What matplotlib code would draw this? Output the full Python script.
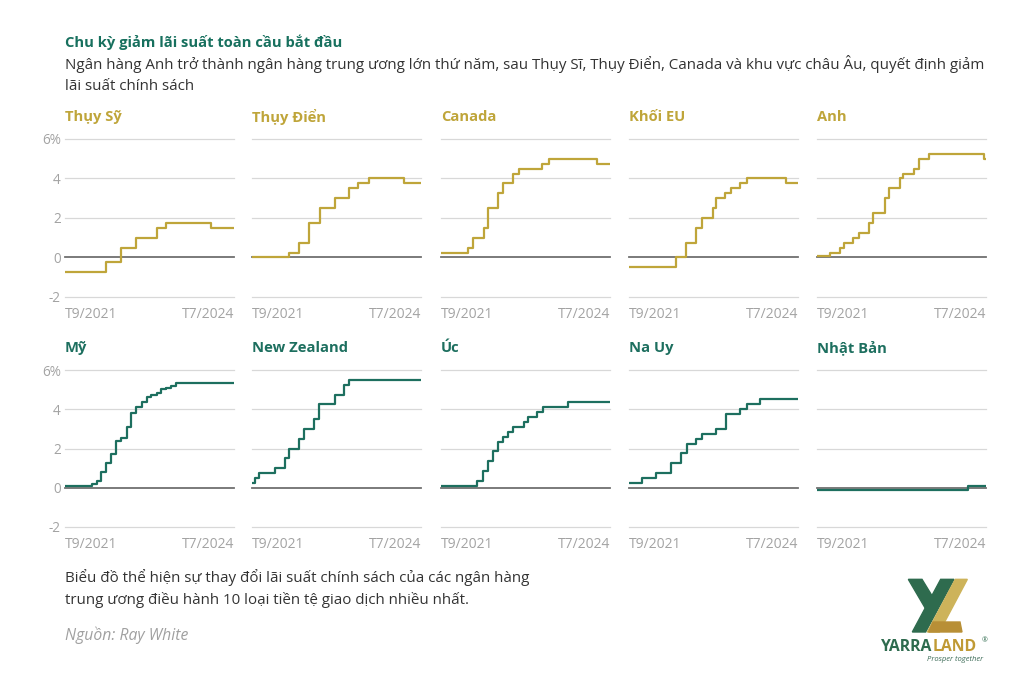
import numpy as np
import pandas as pd
import matplotlib
matplotlib.use("Agg")
import matplotlib.pyplot as plt
from matplotlib.patches import Polygon

plt.rcParams['font.family'] = ['Open Sans', 'DejaVu Sans']

# ---- data (policy rates, %) ----
start, end = "2021-09-01", "2024-08-01"

che_dates = ["2021-09-01", "2022-05-18", "2022-08-21", "2022-11-24", "2023-04-01", "2023-06-01", "2024-03-09"]
che_rates = [-0.75, -0.25, 0.5, 1.0, 1.5, 1.75, 1.5]

swe_dates = ["2021-09-01", "2022-04-22", "2022-06-22", "2022-08-25", "2022-11-01", "2023-02-07",
             "2023-05-07", "2023-06-28", "2023-09-07", "2024-04-13"]
swe_rates = [0.0, 0.25, 0.75, 1.75, 2.5, 3.0, 3.5, 3.75, 4.0, 3.75]

can_dates = ["2021-09-01", "2022-02-16", "2022-03-22", "2022-05-28", "2022-06-22", "2022-08-28",
             "2022-09-28", "2022-11-28", "2023-01-04", "2023-06-01", "2023-07-13", "2024-05-13"]
can_rates = [0.25, 0.5, 1.0, 1.5, 2.5, 3.25, 3.75, 4.25, 4.5, 4.75, 5.0, 4.75]

eu_dates = ["2021-09-01", "2022-06-22", "2022-08-25", "2022-10-28", "2022-12-04", "2023-02-10",
            "2023-03-01", "2023-05-01", "2023-06-04", "2023-08-04", "2023-09-13", "2024-05-19"]
eu_rates = [-0.5, 0.0, 0.75, 1.5, 2.0, 2.5, 3.0, 3.25, 3.5, 3.75, 4.0, 3.75]

uk_dates = ["2021-09-01", "2021-11-19", "2022-01-22", "2022-02-19", "2022-04-19", "2022-05-25",
            "2022-07-28", "2022-08-21", "2022-11-01", "2022-12-01", "2023-02-07", "2023-02-28",
            "2023-05-04", "2023-06-07", "2023-08-10", "2024-07-19"]
uk_rates = [0.1, 0.25, 0.5, 0.75, 1.0, 1.25, 1.75, 2.25, 3.0, 3.5, 4.0, 4.25, 4.5, 5.0, 5.25, 5.0]

us_dates = ["2021-09-01", "2022-02-16", "2022-03-22", "2022-04-16", "2022-05-16", "2022-06-19",
            "2022-07-22", "2022-08-22", "2022-09-25", "2022-10-25", "2022-11-25", "2022-12-28",
            "2023-01-28", "2023-02-25", "2023-04-01", "2023-04-28", "2023-05-28", "2023-07-04",
            "2023-08-04"]
us_rates = [0.08, 0.2, 0.33, 0.8, 1.25, 1.72, 2.38, 2.56, 3.08, 3.8, 4.12, 4.35,
            4.6, 4.72, 4.85, 5.05, 5.1, 5.2, 5.33]

nz_dates = ["2021-09-01", "2021-09-17", "2021-10-14", "2022-01-22", "2022-03-25", "2022-04-25",
            "2022-06-22", "2022-07-28", "2022-09-25", "2022-10-28", "2023-02-04", "2023-04-01",
            "2023-05-04"]
nz_rates = [0.25, 0.5, 0.75, 1.0, 1.5, 2.0, 2.5, 3.0, 3.5, 4.25, 4.75, 5.25, 5.5]

aus_dates = ["2021-09-01", "2022-04-16", "2022-05-25", "2022-06-22", "2022-07-28", "2022-08-28",
             "2022-09-28", "2022-10-28", "2022-11-28", "2023-02-04", "2023-03-01", "2023-04-28",
             "2023-06-04", "2023-11-10"]
aus_rates = [0.1, 0.35, 0.85, 1.35, 1.85, 2.35, 2.6, 2.85, 3.1, 3.35, 3.6, 3.85, 4.1, 4.35]

nor_dates = ["2021-09-01", "2021-11-19", "2022-02-19", "2022-05-22", "2022-07-25", "2022-09-01",
             "2022-10-28", "2022-12-07", "2023-03-04", "2023-05-04", "2023-08-01", "2023-09-13",
             "2023-12-07"]
nor_rates = [0.25, 0.5, 0.75, 1.25, 1.75, 2.25, 2.5, 2.75, 3.0, 3.75, 4.0, 4.25, 4.5]

jpn_dates = ["2021-09-01", "2024-04-10"]
jpn_rates = [-0.1, 0.1]

names_top = ["Thụy Sỹ", "Thụy Điển", "Canada", "Khối EU", "Anh"]
names_bot = ["Mỹ", "New Zealand", "Úc", "Na Uy", "Nhật Bản"]
series_top = [(che_dates, che_rates), (swe_dates, swe_rates), (can_dates, can_rates),
              (eu_dates, eu_rates), (uk_dates, uk_rates)]
series_bot = [(us_dates, us_rates), (nz_dates, nz_rates), (aus_dates, aus_rates),
              (nor_dates, nor_rates), (jpn_dates, jpn_rates)]

yticks = [-2, 0, 2, 4, 6]
ylabels = ["-2", "0", "2", "4", "6%"]

GOLD = "#bfa53a"
TEAL = "#1d6f5f"
TICK = "#a3a3a3"
W, H = 1024, 683


def fx(x):
    return x / W


def fy(y):
    return 1 - y / H


fig = plt.figure(figsize=(10.24, 6.83), dpi=100)
fig.patch.set_facecolor("white")

lefts = [65, 252, 441, 629, 817]
pw = 169
rows = [(139, 297, 117, names_top, series_top, GOLD),
        (370, 527, 348, names_bot, series_bot, TEAL)]

x0, x1 = pd.Timestamp(start), pd.Timestamp(end)

for top, bot, ttl_y, names, series, col in rows:
    for i, (lx, name, (d, r)) in enumerate(zip(lefts, names, series)):
        ax = fig.add_axes([fx(lx), fy(bot), fx(pw), (bot - top) / H])
        for v in yticks:
            if v == 0:
                ax.axhline(v, color="#707070", lw=1.3, zorder=2, clip_on=False)
            else:
                ax.axhline(v, color="#d8d8d8", lw=0.9, zorder=1, clip_on=False)
        dd = list(pd.to_datetime(d)) + [x1]
        rr = list(r) + [r[-1]]
        ax.step(dd, rr, where="post", color=col, lw=1.6, zorder=3)
        ax.set_xlim(x0, x1)
        ax.set_ylim(-2, 6)
        for s in ax.spines.values():
            s.set_visible(False)
        ax.set_yticks(yticks)
        if i == 0:
            ax.set_yticklabels(ylabels, color=TICK, fontsize=9.8)
        else:
            ax.set_yticklabels([])
        ax.set_xticks([x0, x1])
        ax.set_xticklabels(["T9/2021", "T7/2024"], color=TICK, fontsize=10)
        labs = ax.get_xticklabels()
        labs[0].set_horizontalalignment("left")
        labs[1].set_horizontalalignment("right")
        ax.tick_params(length=0, pad=3)
        ax.tick_params(axis="x", pad=7)
        ax.set_facecolor("none")
        fig.text(fx(lx), fy(ttl_y), name, color=col, fontsize=10.6,
                 fontweight="bold", va="center", ha="left")

# header
fig.text(fx(65), fy(42), "Chu kỳ giảm lãi suất toàn cầu bắt đầu", color="#17705e",
         fontsize=10.6, fontweight="bold", va="center")
fig.text(fx(65), fy(64), "Ngân hàng Anh trở thành ngân hàng trung ương lớn thứ năm, sau Thụy Sĩ, "
         "Thụy Điển, Canada và khu vực châu Âu, quyết định giảm", color="#333333",
         fontsize=10.9, va="center")
fig.text(fx(65), fy(86), "lãi suất chính sách", color="#333333", fontsize=10.9, va="center")

# footer
fig.text(fx(65), fy(578), "Biểu đồ thể hiện sự thay đổi lãi suất chính sách của các ngân hàng",
         color="#333333", fontsize=10.9, va="center")
fig.text(fx(65), fy(600), "trung ương điều hành 10 loại tiền tệ giao dịch nhiều nhất.",
         color="#333333", fontsize=10.9, va="center")
fig.text(fx(65), fy(635), "Nguồn: Ray White", color="#a0a0a0", fontsize=11.3,
         style="italic", va="center")

# logo (drawn in pixel-like coords: 3 units per pixel)
lax = fig.add_axes([fx(860), fy(670), fx(150), 100 / H])
lax.set_xlim(0, 450)
lax.set_ylim(300, 0)
lax.axis("off")
lax.add_patch(Polygon([(145, 28), (186, 28), (230, 100), (206, 132)], color="#2e6b4e"))
lax.add_patch(Polygon([(242, 28), (282, 28), (197, 186), (157, 186)], color="#2e6b4e"))
lax.add_patch(Polygon([(286, 28), (322, 28), (238, 186), (202, 186)], color="#cdb35a"))
lax.add_patch(Polygon([(219, 156), (300, 156), (306, 186), (206, 186)], color="#b88f36"))
lax.text(216, 231, "YARRA", color="#2e6b4e", fontsize=11.3, fontweight="bold",
         va="center", ha="right")
lax.text(218, 231, "LAND", color="#c09a35", fontsize=11.3, fontweight="bold",
         va="center", ha="left")
lax.text(364, 212, "®", color="#2e6b4e", fontsize=5, va="center", ha="left")
lax.text(200, 268, "Prosper together", color="#3a6a55", fontsize=5.5, style="italic",
         va="center", ha="left")

fig.savefig("out.png", dpi=100, facecolor="white")
